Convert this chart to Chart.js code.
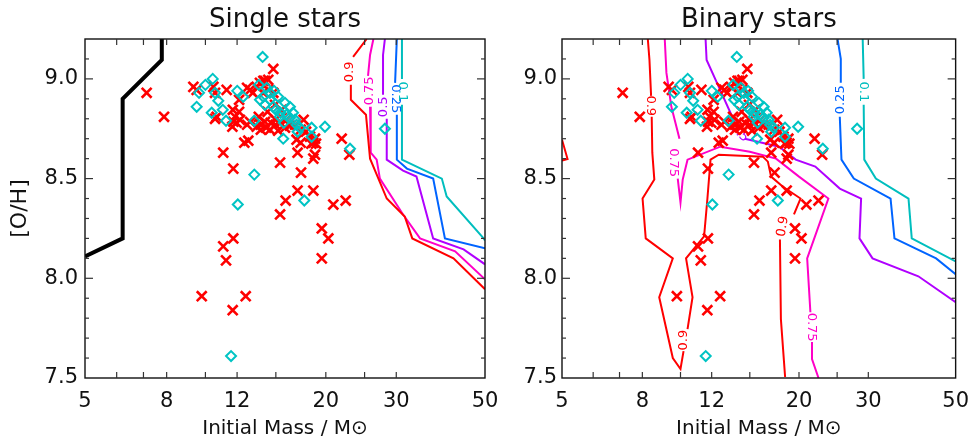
<!DOCTYPE html>
<html><head><meta charset="utf-8">
<script src="https://cdn.jsdelivr.net/npm/chart.js@4.4.1/dist/chart.umd.min.js"></script>
<style>
html,body{margin:0;padding:0;background:#fff;width:980px;height:444px;overflow:hidden}
#c1{position:absolute;left:0;top:0}
#c2{position:absolute;left:490px;top:0}
</style></head><body>
<canvas id="c1" width="520" height="444"></canvas>
<canvas id="c2" width="490" height="444"></canvas>
<script>
// ---------- tick labels ----------
const xTickValues = [5, 8, 12, 20, 30, 50];
const xMinorTicks = [6, 7, 8, 10, 12, 15, 20, 25, 30];
const yTickValues = [7.5, 8.0, 8.5, 9.0];

// ---------- observed stars (same in both panels) ----------
const redMass = [7.13,7.88,9.79,11.70,12.61,11.74,11.08,11.26,11.08,11.74,15.37,15.37,15.87,17.0,17.34,17.0,18.61,18.61,18.79,19.54,20.29,19.54,20.88,22.42,21.91,22.9,12.8,12.51,14.78,
 9.33,9.51,10.47,10.57,11.30,12.14,12.93,13.14,13.69,14.09,14.36,13.96,14.78,13.43,12.71,13.96,14.36,
 10.67,11.86,11.75,11.97,12.20,11.68,12.14,11.71,12.71,12.93,10.57,
 13.43,13.76,14.18,14.57,14.98,15.39,15.81,14.5,14.09,14.98,15.95,13.76,15.2,16.27,13.6,14.3,14.93,15.5,
 17.6,17.3,17.85,18.26,18.6,17.3,18.4,18.9,18.79,16.9,16.75];
const redOH = [8.93,8.81,7.91,7.84,7.91,8.20,8.16,8.09,8.63,8.55,8.58,8.32,8.39,8.44,8.53,8.63,8.44,8.60,8.62,8.25,8.20,8.10,8.37,8.39,8.70,8.62,8.69,8.68,9.05,
 8.96,8.945,8.96,8.93,8.945,8.895,8.945,8.93,8.98,8.99,8.945,8.93,8.93,8.96,8.955,8.99,8.995,
 8.81,8.81,8.785,8.78,8.795,8.76,8.835,8.845,8.77,8.785,8.80,
 8.76,8.77,8.755,8.78,8.77,8.78,8.755,8.745,8.785,8.795,8.795,8.745,8.74,8.765,8.81,8.835,8.87,8.845,
 8.795,8.745,8.735,8.71,8.68,8.68,8.675,8.675,8.70,8.695,8.77];
const cyanMass = [13.9,10.43,10.0,9.64,9.51,10.57,10.77,10.37,11.05,11.26,12.01,12.43,13.25,13.25,12.05,11.59,15.65,17.67,19.9,22.99,28.1,18.43,18.43,17.0,
 13.6,14.23,13.96,14.5,14.09,14.78,15.2,15.0,15.4,15.95,15.81,16.27,16.56,16.75,16.9,17.24,15.36,16.27,14.5,15.7,13.69,14.85];
const cyanOH = [9.11,9.0,8.97,8.93,8.86,8.93,8.89,8.83,8.845,8.79,8.94,8.91,8.79,8.52,8.37,7.61,8.70,8.39,8.76,8.65,8.75,8.755,8.71,8.735,
 8.97,8.955,8.91,8.895,8.87,8.86,8.91,8.845,8.83,8.82,8.88,8.805,8.83,8.795,8.77,8.755,8.81,8.86,8.93,8.78,8.895,8.94];

// ---------- Single-star model contours (null = label gap) ----------
const sBlackMass = [5.0, 6.21, 6.21, 7.78, 7.78];
const sBlackOH   = [8.11, 8.20, 8.90, 9.095, 9.2];
const s90Mass = [25.3, 23.4, null, 23.1, 23.1, 25.2, 25.8, 28.4, 31.5, 32.9, 41.7, 50];
const s90OH   = [9.2, 9.11, null, 8.97, 8.895, 8.82, 8.60, 8.40, 8.31, 8.20, 8.10, 7.945];
const s75Mass = [26.3, 25.8, 25.5, null, 25.8, 25.9, 26.8, 27.3, 31.2, 34.4, 42.1, 50];
const s75OH   = [9.2, 9.12, 9.015, null, 8.86, 8.63, 8.595, 8.50, 8.32, 8.20, 8.135, 7.995];
const s50Mass = [28.1, 27.8, 27.8, null, 28.4, 28.4, 31.2, 33.7, 37.1, 44.2, 50];
const s50OH   = [9.2, 9.12, 8.92, null, 8.80, 8.595, 8.54, 8.51, 8.20, 8.145, 8.07];
const s25Mass = [30.1, 29.8, null, 30.1, 30.1, 31.9, 37.1, 39.7, 50];
const s25OH   = [9.2, 8.98, null, 8.82, 8.595, 8.55, 8.50, 8.20, 8.15];
const s10Mass = [31.0, 31.0, null, 31.0, 31.0, 39.0, 40.1, 49.6, 50];
const s10OH   = [9.2, 9.0, null, 8.87, 8.595, 8.50, 8.41, 8.20, 8.19];

// ---------- Binary-star model contours ----------
const b90Mass = [8.26, 8.34, 8.42, null, 8.45, 8.48, 8.58, 8.01, 8.16, 9.56, 8.83, 9.56, 10.0, 10.18, null, 10.42, 10.73, 10.33, 11.48, 11.70, 11.92, 12.51, 16.19, 16.67, 16.99, 18.17, 20.18, 19.42, null, 17.89, 17.99, 18.44];
const b90OH   = [9.2, 9.095, 8.915, null, 8.81, 8.63, 8.495, 8.40, 8.20, 8.10, 7.905, 7.60, 7.545, 7.635, null, 7.745, 7.905, 8.10, 8.21, 8.395, 8.595, 8.62, 8.61, 8.585, 8.51, 8.46, 8.40, 8.32, null, 8.195, 7.795, 7.505];
const b90edgeMass = [5.0, 5.165, 5.0];
const b90edgeOH   = [8.695, 8.598, 8.59];
const b75Mass = [9.12, 9.21, 9.48, 9.94, null, 9.84, 10.0, 10.13, 10.42, 12.62, 15.0, 17.49, 20.0, 23.75, 20.98, 21.38, null, 21.58, 21.58, 22.42];
const b75OH   = [9.2, 9.03, 8.86, 8.70, null, 8.50, 8.38, 8.495, 8.595, 8.66, 8.635, 8.60, 8.51, 8.40, 8.10, 7.83, null, 7.68, 7.595, 7.50];
const b50Mass = [11.58, 11.65, 12.51, 13.64, 13.90, null, 14.57, 17.81, 19.62, 22.0, 25.39, 28.76, 28.49, 30.75, 40.2, 50];
const b50OH   = [9.2, 9.095, 8.96, 8.795, 8.755, null, 8.70, 8.66, 8.595, 8.56, 8.45, 8.40, 8.20, 8.10, 8.01, 7.88];
const b25Mass = [25.06, 25.54, 25.54, null, 25.39, 25.64, 27.56, 34.17, 34.96, 44.6, 50];
const b25OH   = [9.2, 9.10, 8.98, null, 8.81, 8.595, 8.50, 8.40, 8.20, 8.10, 8.02];
const b10Mass = [29.03, 29.2, null, 29.2, 29.3, 31.35, 37.95, 38.68, 50];
const b10OH   = [9.2, 9.0, null, 8.87, 8.595, 8.50, 8.40, 8.20, 8.085];

// ---------- styles ----------
const C90 = '#ff0000', C75 = '#ff00c8', C50 = '#b000ff', C25 = '#0064ff', C10 = '#00bebe';
const CROSS = '#ff0000', DIAM = '#00c4c4';
const FONT = '"DejaVu Sans", sans-serif';

const singleLabels = [
  {text:'0.9',  m:23.0, oh:9.035, color:C90, rot:-90},
  {text:'0.75', m:25.7, oh:8.94,  color:C75, rot:-90},
  {text:'0.5',  m:27.9, oh:8.86,  color:C50, rot:-90},
  {text:'0.25', m:29.9, oh:8.90,  color:C25, rot:90},
  {text:'0.1',  m:31.0, oh:8.935, color:C10, rot:90}
];
const binaryLabels = [
  {text:'0.9',  m:8.40, oh:8.865, color:C90, rot:90},
  {text:'0.75', m:9.62, oh:8.58,  color:C75, rot:90},
  {text:'0.5',  m:14.1, oh:8.73,  color:C50, rot:45},
  {text:'0.9',  m:10.2, oh:7.69,  color:C90, rot:-90},
  {text:'0.9',  m:18.2, oh:8.26,  color:C90, rot:-80},
  {text:'0.75', m:21.55,oh:7.755, color:C75, rot:90},
  {text:'0.25', m:25.5, oh:8.895, color:C25, rot:-90},
  {text:'0.1',  m:29.2, oh:8.935, color:C10, rot:90}
];

function pts(ms, ohs){ return ms.map((m,i)=> m===null ? {x:null,y:null} : {x:m, y:ohs[i]}); }
function lineDS(ms, ohs, color, w){
  return {data: pts(ms, ohs), showLine:true, borderColor:color, borderWidth:w||2, pointRadius:0, pointHitRadius:0, spanGaps:false, fill:false, tension:0, order:3};
}
function starDS(){
  return [
    {data: pts(cyanMass, cyanOH), pointStyle:'rectRot', pointRadius:5, pointBorderWidth:2, pointBorderColor:DIAM, pointBackgroundColor:'rgba(0,0,0,0)', showLine:false, order:0},
    {data: pts(redMass, redOH), pointStyle:'crossRot', pointRadius:7, pointBorderWidth:2.6, pointBorderColor:CROSS, pointBackgroundColor:CROSS, showLine:false, order:1}
  ];
}

const deco = {
  id:'deco',
  beforeDatasetsDraw(chart, args, opts){
    const ctx = chart.ctx, xs = chart.scales.x, ys = chart.scales.y;
    ctx.save();
    ctx.font = '13px ' + FONT; ctx.textAlign='center'; ctx.textBaseline='middle';
    (opts.labels||[]).forEach(l=>{
      ctx.save();
      ctx.translate(xs.getPixelForValue(l.m), ys.getPixelForValue(l.oh));
      ctx.rotate(l.rot*Math.PI/180);
      ctx.fillStyle = l.color;
      ctx.fillText(l.text, 0, 0);
      ctx.restore();
    });
    ctx.restore();
  },
  afterDraw(chart){
    const ctx = chart.ctx, a = chart.chartArea, xs = chart.scales.x, ys = chart.scales.y;
    ctx.save();
    ctx.strokeStyle = '#111'; ctx.lineWidth = 1.4;
    ctx.strokeRect(a.left, a.top, a.right-a.left, a.bottom-a.top);
    ctx.lineWidth = 1.2; ctx.strokeStyle='#333';
    const ln=(x1,y1,x2,y2)=>{ctx.beginPath();ctx.moveTo(x1,y1);ctx.lineTo(x2,y2);ctx.stroke();};
    xMinorTicks.forEach(v=>{ const x = xs.getPixelForValue(v); ln(x,a.bottom,x,a.bottom-6); ln(x,a.top,x,a.top+6); });
    for(let k=76;k<=91;k++){ const y = ys.getPixelForValue(k/10); const L = (k%5===0)?8:4; ln(a.left,y,a.left+L,y); ln(a.right,y,a.right-L,y); }
    ctx.restore();
  }
};

function makeChart(id, title, datasets, labels, yWidth, padRight, showYTitle, yPad){
  return new Chart(document.getElementById(id), {
    type:'scatter',
    data:{datasets},
    plugins:[deco],
    options:{
      responsive:false, animation:false, devicePixelRatio:1,
      layout:{padding:{left:0, right:padRight, top:0, bottom:0}},
      plugins:{
        legend:{display:false}, tooltip:{enabled:false},
        title:{display:true, text:title, fullSize:false, color:'#111', font:{family:FONT, size:26, weight:'normal', lineHeight:'30px'}, padding:{top:5,bottom:4}},
        deco:{labels}
      },
      scales:{
        x:{type:'logarithmic', min:5, max:50,
           afterBuildTicks(s){ s.ticks = xTickValues.map(v=>({value:v})); },
           afterFit(s){ s.height = 66; },
           grid:{display:false, drawTicks:false}, border:{display:false},
           ticks:{autoSkip:false, maxRotation:0, padding:11, color:'#111', font:{family:FONT, size:21}, callback:(v)=>String(v)},
           title:{display:true, text:'Initial Mass / M\u2299', color:'#111', font:{family:FONT, size:20}, padding:{top:0,bottom:3}}},
        y:{type:'linear', min:7.5, max:9.2,
           afterBuildTicks(s){ s.ticks = yTickValues.map(v=>({value:v})); },
           afterFit(s){ s.width = yWidth; },
           grid:{display:false, drawTicks:false}, border:{display:false},
           ticks:{padding:yPad, color:'#111', font:{family:FONT, size:21}, callback:(v)=>Number(v).toFixed(1)},
           title:{display:showYTitle, text:'[O/H]', color:'#111', font:{family:FONT, size:22}, padding:{top:7,bottom:0}}}
      }
    }
  });
}

makeChart('c1', 'Single stars', [
  ...starDS(),
  lineDS(sBlackMass, sBlackOH, '#000', 4),
  lineDS(s90Mass, s90OH, C90), lineDS(s75Mass, s75OH, C75), lineDS(s50Mass, s50OH, C50),
  lineDS(s25Mass, s25OH, C25), lineDS(s10Mass, s10OH, C10)
], singleLabels, 85, 35, true, 7);

makeChart('c2', 'Binary stars', [
  ...starDS(),
  lineDS(b90Mass, b90OH, C90), lineDS(b90edgeMass, b90edgeOH, C90), lineDS(b75Mass, b75OH, C75),
  lineDS(b50Mass, b50OH, C50), lineDS(b25Mass, b25OH, C25), lineDS(b10Mass, b10OH, C10)
], binaryLabels, 72, 17, false, 5);
</script></body></html>
